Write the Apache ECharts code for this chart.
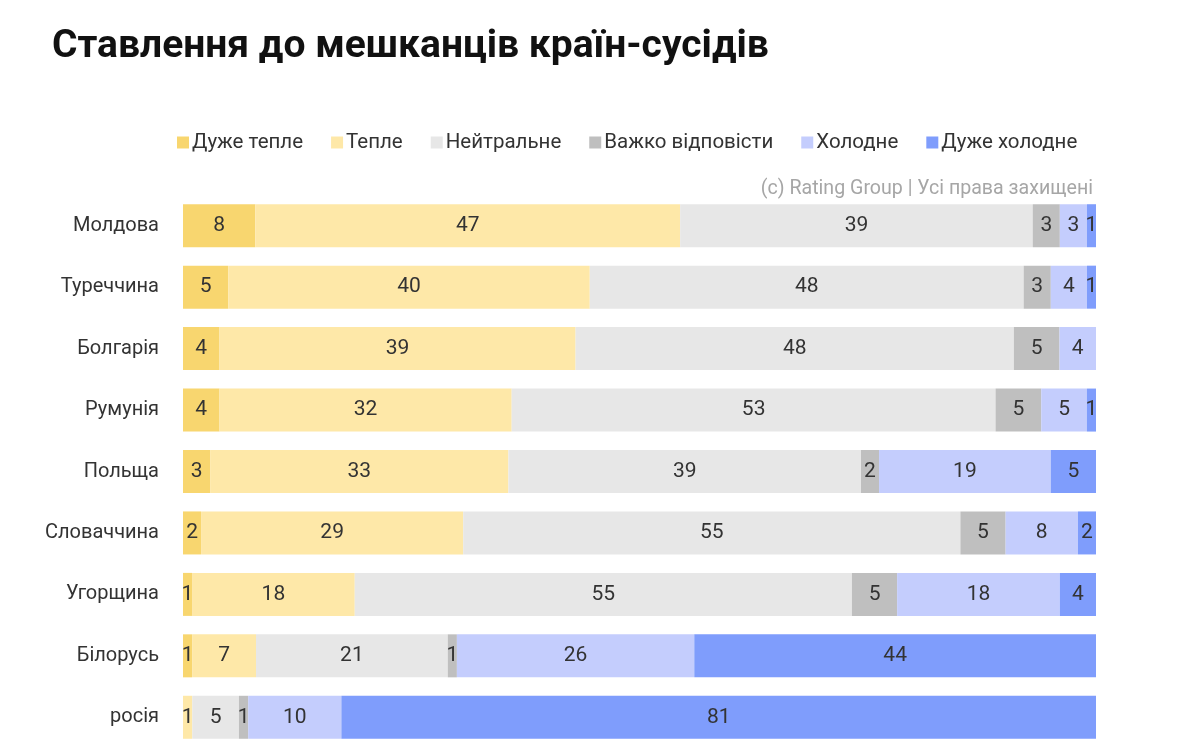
<!DOCTYPE html>
<html>
<head>
<meta charset="utf-8">
<script src="https://cdn.jsdelivr.net/npm/echarts@6/dist/echarts.min.js"></script>
<style>
  html, body { margin: 0; padding: 0; background: #fff; }
  #chart { width: 1193px; height: 748px; }
</style>
</head>
<body>
<div id="chart"></div>
<script>
var countries = ['Молдова', 'Туреччина', 'Болгарія', 'Румунія', 'Польща', 'Словаччина', 'Угорщина', 'Білорусь', 'росія'];
var seriesNames = ['Дуже тепле', 'Тепле', 'Нейтральне', 'Важко відповісти', 'Холодне', 'Дуже холодне'];
var colors = ['#f8d66f', '#fee8a8', '#e7e7e7', '#bfbfbf', '#c4cdfd', '#7f9dfc'];

var veryWarm = [8, 5, 4, 4, 3, 2, 1, 1, 0];
var warm = [47, 40, 39, 32, 33, 29, 18, 7, 1];
var neutral = [39, 48, 48, 53, 39, 55, 55, 21, 5];
var hardToSay = [3, 3, 5, 5, 2, 5, 5, 1, 1];
var cold = [3, 4, 4, 5, 19, 8, 18, 26, 10];
var veryCold = [1, 1, 0, 1, 5, 2, 4, 44, 81];

var allValues = [veryWarm, warm, neutral, hardToSay, cold, veryCold];

var FONT = 'Roboto';

// rounded values don't always add up to 100, so scale each row to full width
var rowSums = countries.map(function (c, i) {
    var s = 0;
    for (var k = 0; k < allValues.length; k++) s += allValues[k][i];
    return s;
});

var chart = echarts.init(document.getElementById('chart'));

var series = allValues.map(function (vals, k) {
    return {
        name: seriesNames[k],
        type: 'bar',
        stack: 'total',
        barWidth: '70%',
        itemStyle: { color: colors[k] },
        label: {
            show: true,
            position: 'inside',
            color: '#333',
            fontSize: 21,
            fontFamily: FONT,
            formatter: function (p) {
                var v = vals[p.dataIndex];
                return v > 0 ? String(v) : '';
            }
        },
        emphasis: { disabled: true },
        data: vals.map(function (v, i) {
            return v / rowSums[i] * 100;
        })
    };
});

chart.setOption({
    animation: false,
    title: [{
        text: 'Ставлення до мешканців країн-сусідів',
        left: 47,
        top: 23,
        textStyle: {
            fontFamily: FONT,
            fontWeight: 'bold',
            fontSize: 39,
            color: '#111'
        }
    }, {
        text: '(c) Rating Group | Усі права захищені',
        right: 95,
        top: 174,
        textStyle: {
            fontFamily: FONT,
            fontWeight: 'normal',
            fontSize: 19.6,
            color: '#a6a6a6'
        }
    }],
    legend: {
        top: 127,
        left: 172,
        itemWidth: 12,
        itemHeight: 12,
        itemGap: 28,
        icon: 'rect',
        textStyle: {
            fontFamily: FONT,
            fontSize: 20.5,
            color: '#333',
            padding: [0, 0, 0, -2]
        },
        data: seriesNames
    },
    grid: {
        left: 183,
        right: 97,
        top: 195,
        bottom: 0,
        containLabel: false
    },
    xAxis: {
        type: 'value',
        min: 0,
        max: 100,
        show: false
    },
    yAxis: {
        type: 'category',
        inverse: true,
        data: countries,
        axisLine: { show: false },
        axisTick: { show: false },
        axisLabel: {
            margin: 24,
            fontFamily: FONT,
            fontSize: 20,
            color: '#333'
        }
    },
    series: series
});
window.onresize = chart.resize;
</script>
</body>
</html>
